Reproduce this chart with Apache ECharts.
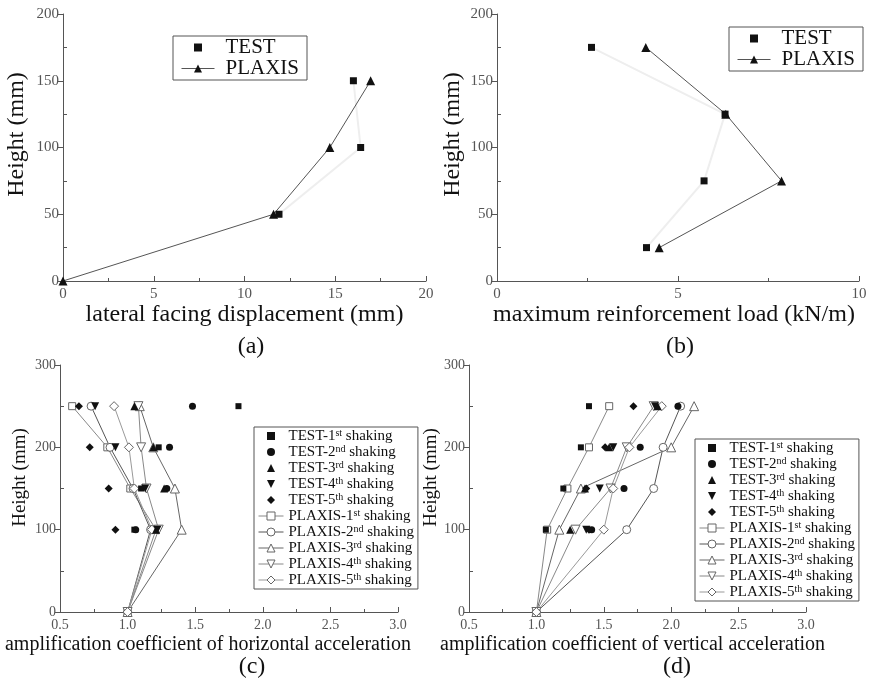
<!DOCTYPE html>
<html>
<head>
<meta charset="utf-8">
<script src="https://cdn.jsdelivr.net/npm/echarts@6.0.0/dist/echarts.min.js"></script>
<style>
  html, body { margin: 0; padding: 0; background: #fff; }
  #chart { width: 875px; height: 687px; }
</style>
</head>
<body>
<div id="chart"></div>
<script>
// (a) lateral facing displacement vs height
const aTestHeight = [50, 100, 150];
const aTestDisp = [11.9, 16.4, 16.0];
const aPlaxisHeight = [0, 50, 100, 150];
const aPlaxisDisp = [0, 11.6, 14.7, 16.95];

// (b) maximum reinforcement load vs height
const bHeight = [25, 75, 125, 175];
const bTestLoad = [4.13, 5.72, 6.30, 2.61];
const bPlaxisLoad = [4.48, 7.86, 6.32, 4.11];

// (c) (d) amplification coefficients, one row per shaking
const shakings = ['1st', '2nd', '3rd', '4th', '5th'];
const testHeight = [100, 150, 200, 250];
const plaxisHeight = [0, 100, 150, 200, 250];

const cTestHoriz = [
  [1.05, 1.10, 1.23, 1.82],
  [1.06, 1.29, 1.31, 1.48],
  [1.21, 1.27, 1.19, 1.05],
  [1.22, 1.13, 0.91, 0.76],
  [0.91, 0.86, 0.72, 0.64]
];
const cPlaxisHoriz = [
  [1.0, 1.21, 1.02, 0.85, 0.59],
  [1.0, 1.17, 1.04, 0.87, 0.73],
  [1.0, 1.40, 1.35, 1.19, 1.09],
  [1.0, 1.23, 1.14, 1.10, 1.08],
  [1.0, 1.18, 1.05, 1.01, 0.90]
];

const dTestVert = [
  [1.07, 1.20, 1.33, 1.39],
  [1.41, 1.65, 1.77, 2.05],
  [1.25, 1.36, 1.54, 1.90],
  [1.37, 1.47, 1.57, 1.88],
  [1.39, 1.37, 1.51, 1.72]
];
const dPlaxisVert = [
  [1.0, 1.08, 1.23, 1.39, 1.54],
  [1.0, 1.67, 1.87, 1.94, 2.07],
  [1.0, 1.17, 1.33, 2.00, 2.17],
  [1.0, 1.29, 1.55, 1.67, 1.87],
  [1.0, 1.50, 1.57, 1.69, 1.93]
];

const serif = '"Liberation Serif", "Times New Roman", serif';
const markers = ['rect', 'circle', 'triangle', 'path://M0,0L10,0L5,9Z', 'diamond'];
const markerSizes = [7, 8, 9, 9, 9];
const plaxisGrays = ['#888', '#555', '#666', '#888', '#999'];

const zip = (xs, ys) => xs.map((x, i) => [x, ys[i]]);

function valueAxis(idx, min, max, interval, name, extra, isY) {
  return Object.assign({
    type: 'value', gridIndex: idx, min: min, max: max, interval: interval,
    axisLine: { show: true, lineStyle: { color: '#555', width: 1 } },
    axisTick: { show: true, inside: !isY, length: 5, lineStyle: { color: '#555' } },
    minorTick: { show: true, splitNumber: 2, length: isY ? -4 : 3, lineStyle: { color: '#555' } },
    splitLine: { show: false },
    minorSplitLine: { show: false },
    axisLabel: { color: '#555', fontFamily: serif, fontSize: 15, margin: isY ? 4 : 6 },
    name: name, nameLocation: 'middle', nameMoveOverlap: false,
    nameTextStyle: { color: '#111', fontFamily: serif, fontSize: 24 }
  }, extra);
}

// panels (a) and (b)
const abSeries = [
  { type: 'line', xAxisIndex: 0, yAxisIndex: 0, data: zip(aTestDisp, aTestHeight),
    symbol: 'none', lineStyle: { color: '#eeeeee', width: 2 }, z: 1 },
  { name: 'TEST', type: 'line', xAxisIndex: 0, yAxisIndex: 0, data: zip(aTestDisp, aTestHeight),
    symbol: 'rect', symbolSize: 7, lineStyle: { width: 0 }, itemStyle: { color: '#111' }, z: 3 },
  { name: 'PLAXIS', type: 'line', xAxisIndex: 0, yAxisIndex: 0, data: zip(aPlaxisDisp, aPlaxisHeight),
    symbol: 'triangle', symbolSize: 9, lineStyle: { color: '#555', width: 1 }, itemStyle: { color: '#111' }, z: 2 },
  { type: 'line', xAxisIndex: 1, yAxisIndex: 1, data: zip(bTestLoad, bHeight),
    symbol: 'none', lineStyle: { color: '#eeeeee', width: 2 }, z: 1 },
  { name: 'TEST', type: 'line', xAxisIndex: 1, yAxisIndex: 1, data: zip(bTestLoad, bHeight),
    symbol: 'rect', symbolSize: 7, lineStyle: { width: 0 }, itemStyle: { color: '#111' }, z: 3 },
  { name: 'PLAXIS', type: 'line', xAxisIndex: 1, yAxisIndex: 1, data: zip(bPlaxisLoad, bHeight),
    symbol: 'triangle', symbolSize: 9, lineStyle: { color: '#555', width: 1 }, itemStyle: { color: '#111' }, z: 2 }
];

function shakeSeries(testVals, plaxisVals, idx) {
  const out = [];
  shakings.forEach((s, i) => {
    out.push({
      name: 'TEST-' + s + ' shaking', type: 'line', xAxisIndex: idx, yAxisIndex: idx,
      data: zip(testVals[i], testHeight), symbol: markers[i], symbolSize: markerSizes[i] - 1,
      lineStyle: { width: 0 }, itemStyle: { color: '#111' }, z: 3
    });
  });
  shakings.forEach((s, i) => {
    out.push({
      name: 'PLAXIS-' + s + ' shaking', type: 'line', xAxisIndex: idx, yAxisIndex: idx,
      data: zip(plaxisVals[i], plaxisHeight), symbol: markers[i], symbolSize: markerSizes[i],
      lineStyle: { color: plaxisGrays[i], width: 1 },
      itemStyle: { color: '#fff', borderColor: '#666', borderWidth: 1 }, z: 2
    });
  });
  return out;
}

function legendFor(names, left, top, small) {
  return {
    orient: 'vertical', left: left, top: top, selectedMode: false,
    data: names.map(n => n.indexOf('TEST') === 0
      ? { name: n, lineStyle: { opacity: 0 } }
      : { name: n, lineStyle: { width: 1 }, itemStyle: { borderWidth: 1 } }),
    itemWidth: small ? 25 : 33, itemHeight: 10, itemGap: 0,
    padding: small ? [1, 4, 1, 4] : [1, 8, 1, 8],
    borderColor: '#555', borderWidth: 1, backgroundColor: '#fff',
    formatter: n => n.replace(/(\d)(st|nd|rd|th)/, '$1{sup|$2}'),
    textStyle: {
      fontFamily: serif, color: '#111', fontSize: small ? 15 : 21, lineHeight: small ? 16 : 18,
      padding: small ? 0 : [0, 0, 0, 6],
      rich: { sup: { fontFamily: serif, color: '#111', fontSize: 10, verticalAlign: 'top', lineHeight: 16 } }
    }
  };
}

const shakeNames = shakings.map(s => 'TEST-' + s + ' shaking')
  .concat(shakings.map(s => 'PLAXIS-' + s + ' shaking'));

const panelLabel = (text, x, y) => ({
  type: 'text', x: x, y: y,
  style: { text: text, font: '24px ' + serif, fill: '#111',
    align: 'center', textAlign: 'center', verticalAlign: 'middle', textVerticalAlign: 'middle' }
});

const smallLabel = { color: '#555', fontFamily: serif, fontSize: 14, margin: 6, formatter: v => v.toFixed(1) };

const chart = echarts.init(document.getElementById('chart'));
chart.setOption({
  animation: false,
  backgroundColor: '#fff',
  grid: [
    { left: 63, top: 14, width: 363, height: 267, outerBoundsMode: 'none' },
    { left: 497, top: 14, width: 362, height: 267, outerBoundsMode: 'none' },
    { left: 60, top: 365, width: 338, height: 247, outerBoundsMode: 'none' },
    { left: 469, top: 365, width: 337, height: 247, outerBoundsMode: 'none' }
  ],
  xAxis: [
    valueAxis(0, 0, 20, 5, 'lateral facing displacement (mm)', { nameGap: 22 }),
    valueAxis(1, 0, 10, 5, 'maximum reinforcement load (kN/m)', {
      nameGap: 22,
      nameTextStyle: { color: '#111', fontFamily: serif, fontSize: 24, padding: [0, 8, 0, 0] }
    }),
    valueAxis(2, 0.5, 3.0, 0.5, 'amplification coefficient of horizontal acceleration', {
      nameGap: 23, axisLabel: smallLabel,
      nameTextStyle: { color: '#111', fontFamily: serif, fontSize: 20, padding: [0, 42, 0, 0] }
    }),
    valueAxis(3, 0.5, 3.0, 0.5, 'amplification coefficient of vertical acceleration', {
      nameGap: 23, axisLabel: smallLabel,
      nameTextStyle: { color: '#111', fontFamily: serif, fontSize: 20, padding: [0, 10, 0, 0] }
    })
  ],
  yAxis: [
    valueAxis(0, 0, 200, 50, 'Height (mm)', {
      nameGap: 34,
      nameTextStyle: { color: '#111', fontFamily: serif, fontSize: 24, padding: [0, 0, 0, 26] }
    }, true),
    valueAxis(1, 0, 200, 50, 'Height (mm)', {
      nameGap: 32,
      nameTextStyle: { color: '#111', fontFamily: serif, fontSize: 24, padding: [0, 0, 0, 26] }
    }, true),
    valueAxis(2, 0, 300, 100, 'Height (mm)', {
      nameGap: 30,
      axisLabel: { color: '#555', fontFamily: serif, fontSize: 14, margin: 4 },
      nameTextStyle: { color: '#111', fontFamily: serif, fontSize: 19, padding: [0, 0, 0, 22] }
    }, true),
    valueAxis(3, 0, 300, 100, 'Height (mm)', {
      nameGap: 28,
      axisLabel: { color: '#555', fontFamily: serif, fontSize: 14, margin: 4 },
      nameTextStyle: { color: '#111', fontFamily: serif, fontSize: 19, padding: [0, 0, 0, 22] }
    }, true)
  ],
  legend: [
    legendFor(['TEST', 'PLAXIS'], 173, 36, false),
    legendFor(['TEST', 'PLAXIS'], 729, 27, false),
    legendFor(shakeNames, 254, 427, true),
    legendFor(shakeNames, 695, 439, true)
  ],
  graphic: [
    panelLabel('(a)', 251, 347),
    panelLabel('(b)', 680, 347),
    panelLabel('(c)', 252, 667),
    panelLabel('(d)', 677, 667)
  ],
  series: abSeries
    .concat(shakeSeries(cTestHoriz, cPlaxisHoriz, 2))
    .concat(shakeSeries(dTestVert, dPlaxisVert, 3))
});
</script>
</body>
</html>
